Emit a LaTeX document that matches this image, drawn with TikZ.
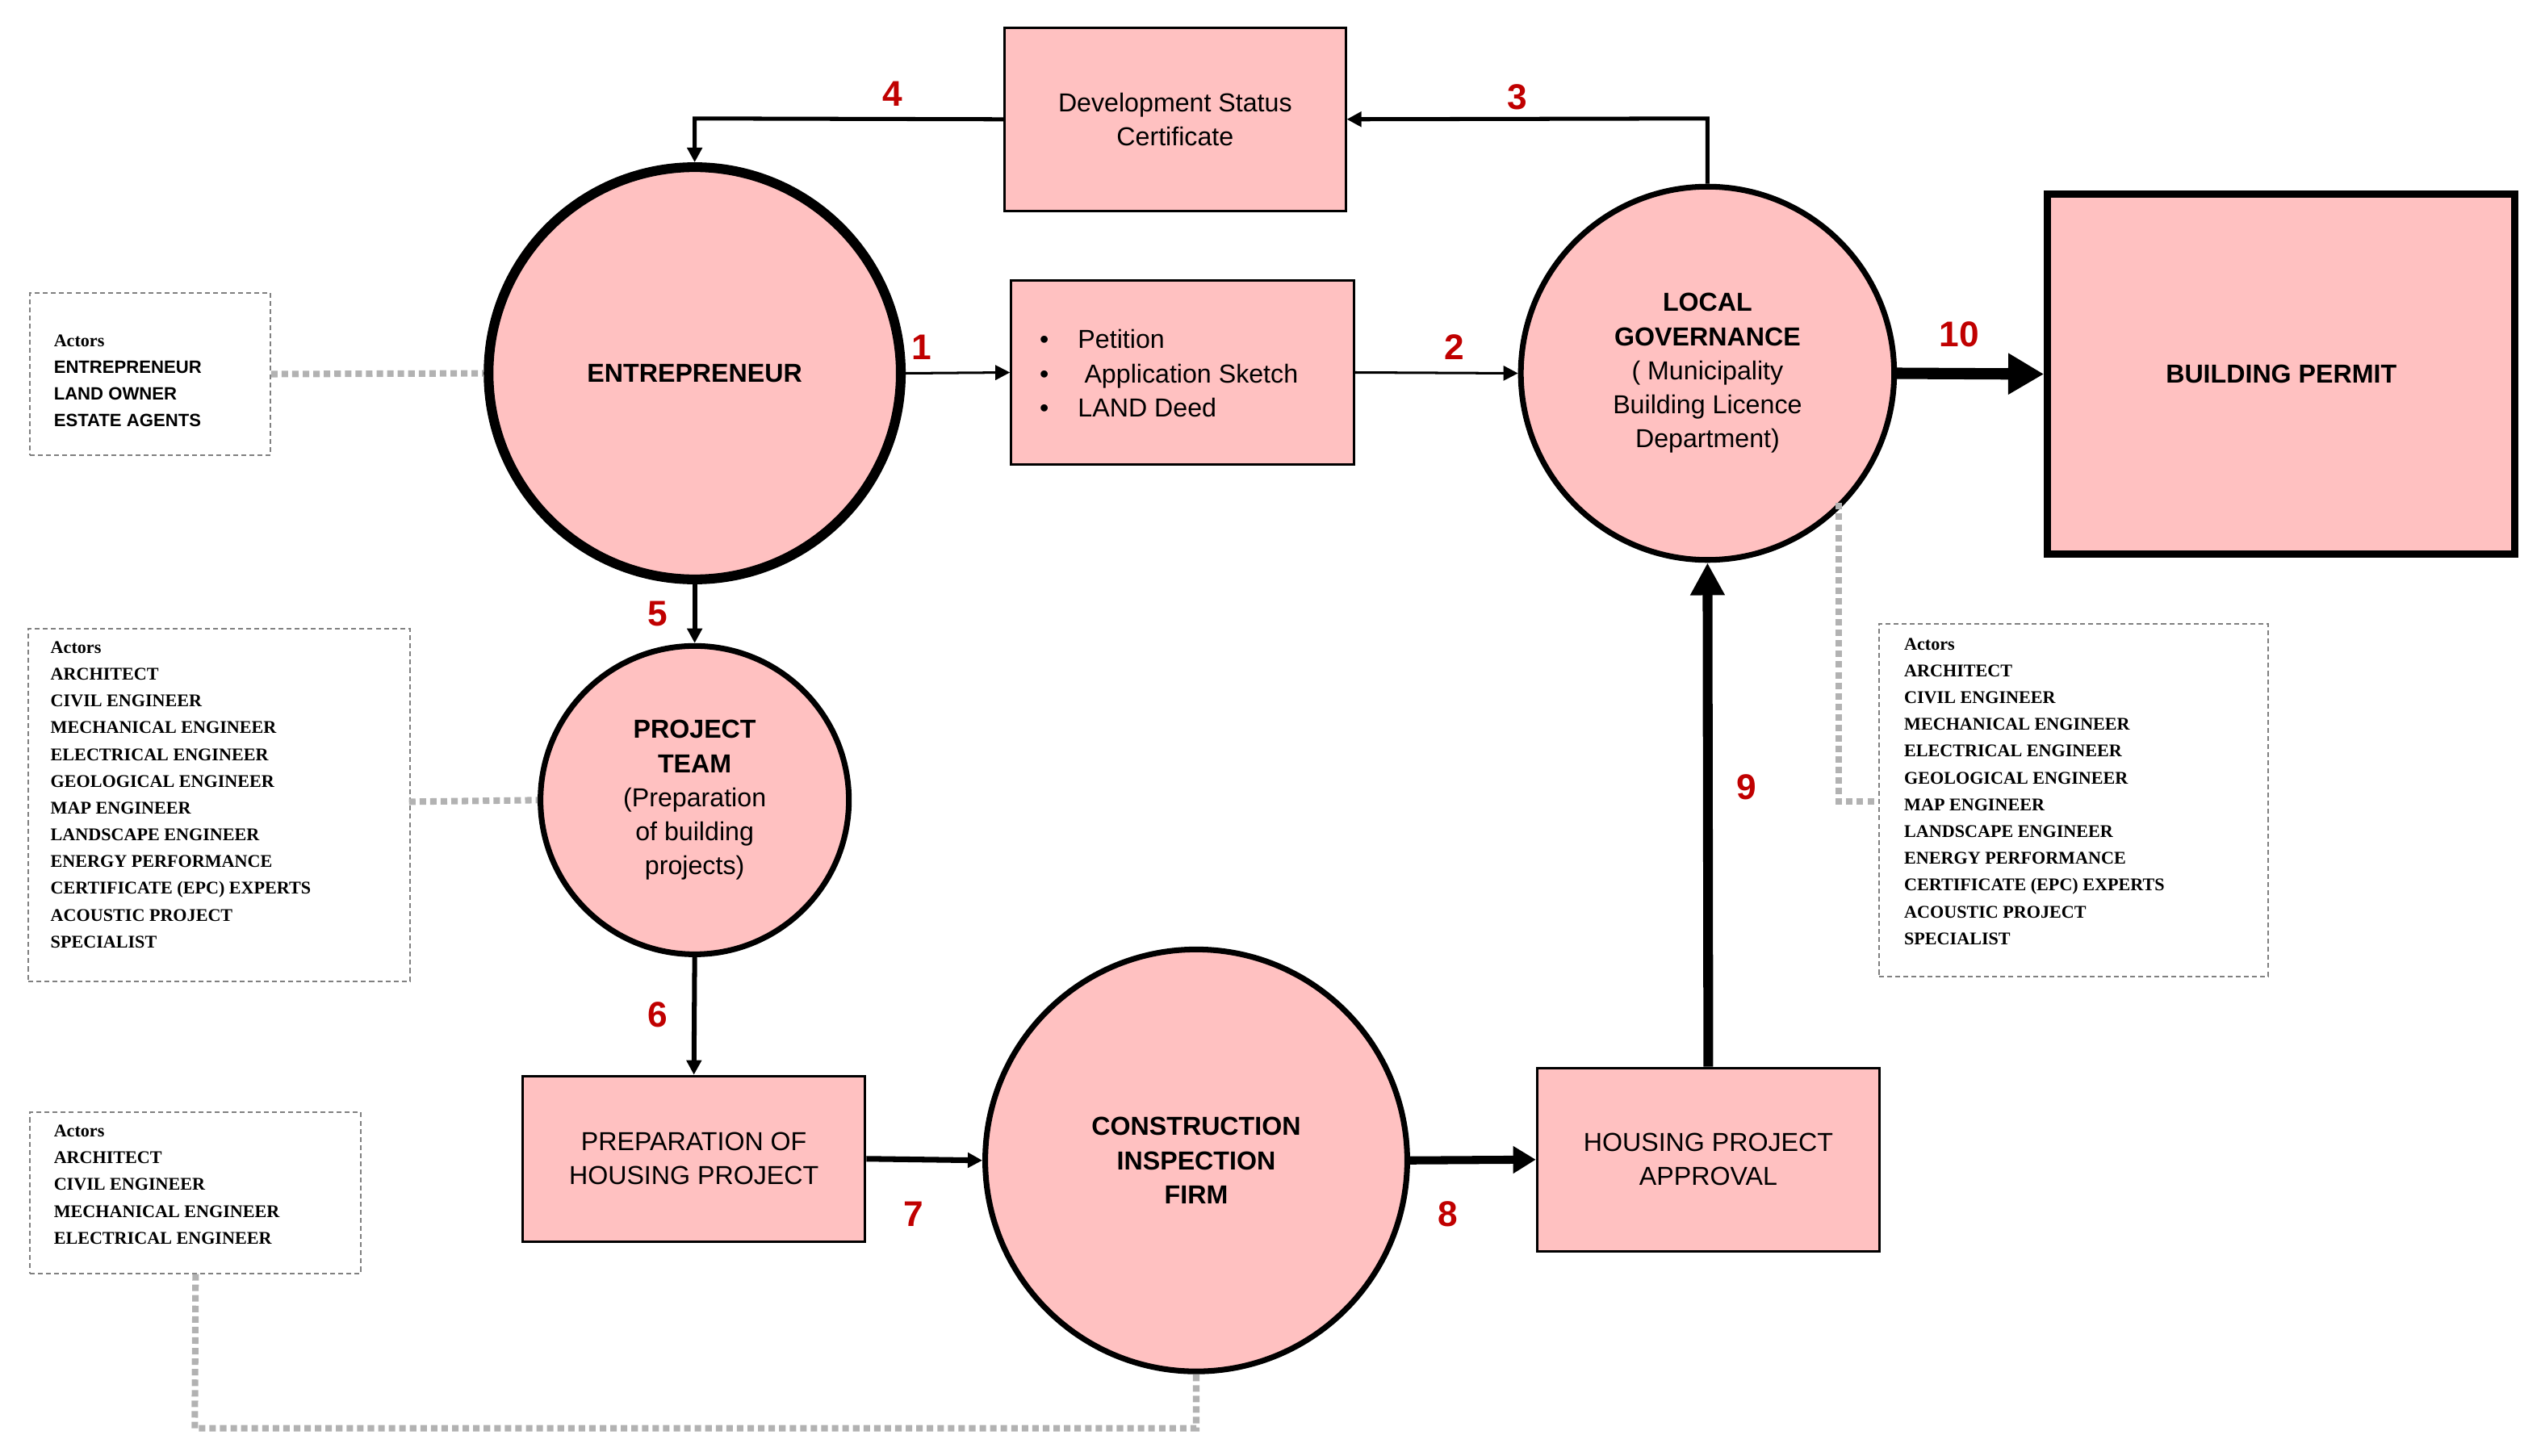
\documentclass[tikz,border=0pt]{standalone}
\usepackage{fontspec}
\setmainfont{Liberation Sans}
\newfontfamily\actfont{Liberation Serif}
\usetikzlibrary{arrows.meta}
\definecolor{pk}{HTML}{FFC1C1}
\definecolor{rd}{HTML}{C00000}
\begin{document}
\begin{tikzpicture}[x=1pt,y=-1pt,
  circ/.style={circle,draw,fill=pk,line width=#1,font=\fontsize{16}{21}\selectfont\bfseries,align=center,inner sep=0},
  box/.style={draw,fill=pk,line width=1.5pt,font=\fontsize{16}{21}\selectfont,align=center},
  act/.style={draw,dashed,gray,line width=1pt,dash pattern=on 3pt off 2pt,text=black,align=left,anchor=north west,inner sep=0,font=\actfont\bfseries\fontsize{11}{16.5}\selectfont},
  num/.style={text=rd,font=\fontsize{22}{22}\selectfont\bfseries},
  arr/.style={-{Triangle[length=9pt,width=9pt]},line width=#1},
  dot/.style={gray!60,line width=4pt,dash pattern=on 4pt off 2.5pt}]
\useasboundingbox (0,0) rectangle (1568,897);
% nodes
\node[circ=6pt,minimum size=254pt] (ent) at (428,230) {ENTREPRENEUR};
\node[circ=3.5pt,minimum size=190pt] (pt) at (428,493) {PROJECT\\TEAM\\\textmd{(Preparation}\\\textmd{of building}\\\textmd{projects)}};
\node[circ=3.5pt,minimum size=260pt] (cif) at (737,715) {CONSTRUCTION\\INSPECTION\\FIRM};
\node[circ=3.5pt,minimum size=230pt] (lg) at (1052,230) {LOCAL\\GOVERNANCE\\\textmd{( Municipality}\\\textmd{Building Licence}\\\textmd{Department)}};
\node[box,minimum width=210pt,minimum height=113pt] (dsc) at (724,73.5) {Development Status\\Certificate};
\node[box,minimum width=211pt,minimum height=113pt] (pet) at (728.5,229.5) {};
\node[font=\fontsize{16}{21}\selectfont,align=left,anchor=west] (petl) at (637,230) {•\hspace{18pt}Petition\\•\hspace{22pt}Application Sketch\\•\hspace{18pt}LAND Deed};
\node[draw,fill=pk,line width=4.5pt,minimum width=288pt,minimum height=222pt,font=\fontsize{16}{21}\selectfont\bfseries] (bp) at (1405.5,230.5) {BUILDING PERMIT};
\node[box,minimum width=211pt,minimum height=102pt] (php) at (427.5,714) {PREPARATION OF\\HOUSING PROJECT};
\node[box,minimum width=211pt,minimum height=113pt] (hpa) at (1052.5,714.5) {HOUSING PROJECT\\APPROVAL};
% actors
\node[act,minimum width=148pt,minimum height=100pt,text depth=0pt] (a1) at (18,180) {};
\node[anchor=north west,align=left,inner sep=0,font=\fontsize{11}{16.5}\selectfont\bfseries] (a1t) at (33,206) {{\actfont Actors}\\ENTREPRENEUR\\LAND OWNER\\ESTATE AGENTS};
\node[act,minimum width=235pt,minimum height=217pt] (a2) at (17,387) {};
\node[anchor=north west,align=left,inner sep=0,font=\actfont\bfseries\fontsize{11}{16.5}\selectfont] (a2t) at (31,395) {Actors\\ARCHITECT\\CIVIL ENGINEER\\MECHANICAL ENGINEER\\ELECTRICAL ENGINEER\\GEOLOGICAL ENGINEER\\MAP ENGINEER\\LANDSCAPE ENGINEER\\ENERGY PERFORMANCE\\CERTIFICATE (EPC) EXPERTS\\ACOUSTIC PROJECT\\SPECIALIST};
\node[act,minimum width=204pt,minimum height=99pt] (a3) at (18,685) {};
\node[anchor=north west,align=left,inner sep=0,font=\actfont\bfseries\fontsize{11}{16.5}\selectfont] (a3t) at (33,693) {Actors\\ARCHITECT\\CIVIL ENGINEER\\MECHANICAL ENGINEER\\ELECTRICAL ENGINEER};
\node[act,minimum width=240pt,minimum height=217pt] (a4) at (1157,384) {};
\node[anchor=north west,align=left,inner sep=0,font=\actfont\bfseries\fontsize{11}{16.5}\selectfont] (a4t) at (1173,393) {Actors\\ARCHITECT\\CIVIL ENGINEER\\MECHANICAL ENGINEER\\ELECTRICAL ENGINEER\\GEOLOGICAL ENGINEER\\MAP ENGINEER\\LANDSCAPE ENGINEER\\ENERGY PERFORMANCE\\CERTIFICATE (EPC) EXPERTS\\ACOUSTIC PROJECT\\SPECIALIST};
% dotted
\draw[dot] (a1.east) -- (ent.west);
\draw[dot] (252,494) -- (pt.west);
\draw[dot] (a3.south) -- (120,880) -- (737,880) -- (cif.south);
\coordinate (lgd) at (1133,310);
\draw[dot] (lgd) -- (1133,494) -- (1157,494);
% arrows
\draw[arr=2.5pt] (dsc.west) -- (428,73) -- (ent.north);
\draw[arr=2.5pt] (lg.north) -- (1052,73) -- (dsc.east);
\draw[arr=1.5pt] (ent.east) -- (pet.west);
\draw[arr=1.5pt] (pet.east) -- (lg.west);
\draw[-{Triangle[length=22pt,width=24pt]},line width=7pt] (lg.east) -- (bp.west);
\draw[arr=3pt] (ent.south) -- (pt.north);
\draw[arr=3pt] (pt.south) -- (php.north);
\draw[arr=3.5pt] (php.east) -- (cif.west);
\draw[-{Triangle[length=14pt,width=16pt]},line width=5pt] (cif.east) -- (hpa.west);
\draw[-{Triangle[length=20pt,width=20pt]},line width=6pt] (hpa.north) -- (lg.south);
% numbers
\node[num] (n4) at (550,58) {4};
\node[num] (n3) at (935,60) {3};
\node[num] (n1) at (568,214) {1};
\node[num] (n2) at (896,214) {2};
\node[num] (n10) at (1207,206) {10};
\node[num] (n5) at (405,378) {5};
\node[num] (n6) at (405,625) {6};
\node[num] (n7) at (563,748) {7};
\node[num] (n8) at (892,748) {8};
\node[num] (n9) at (1076,485) {9};
\end{tikzpicture}
\end{document}
